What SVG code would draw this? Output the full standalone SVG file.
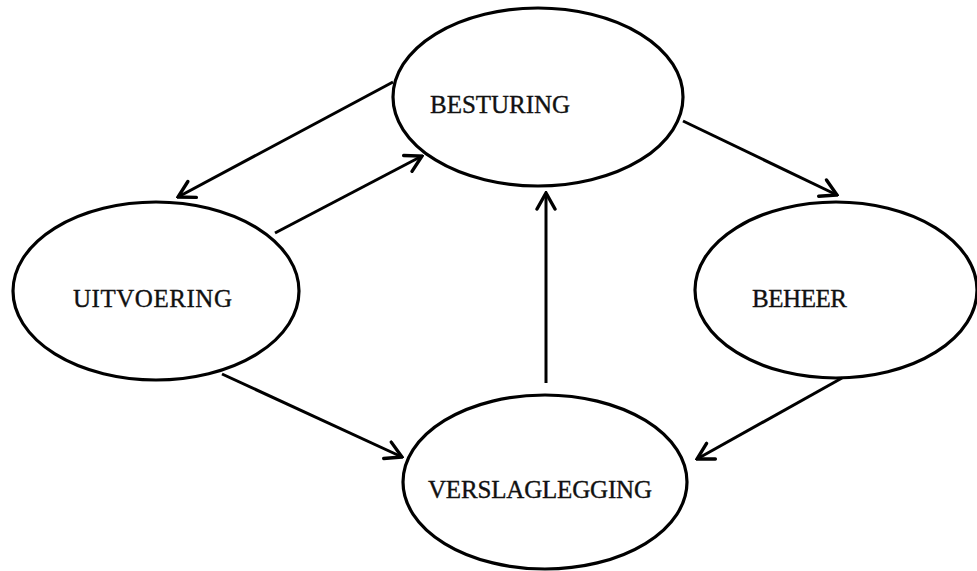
<svg xmlns="http://www.w3.org/2000/svg" width="977" height="571" viewBox="0 0 977 571">
<style>
.n ellipse{fill:none;stroke:#000;stroke-width:3.2}
.n text{font-family:"Liberation Serif","DejaVu Serif",serif;font-size:25px;fill:#111;stroke:#111;stroke-width:0.35}
.c line{stroke:#000;stroke-width:3;fill:none;marker-end:url(#ah)}
</style>
<defs>
<marker id="ah" viewBox="0 0 22 22" refX="20" refY="11" markerWidth="22" markerHeight="22" markerUnits="userSpaceOnUse" orient="auto">
<path d="M4,2 L20,11 L4,20" fill="none" stroke="#000" stroke-width="3.4" stroke-linecap="round" stroke-linejoin="miter"/>
</marker>
</defs>
<rect width="977" height="571" fill="#fff"/>
<g id="besturing" class="n"><ellipse cx="538" cy="97" rx="145" ry="89"/><text x="430" y="113" textLength="140" lengthAdjust="spacing">BESTURING</text></g>
<g id="uitvoering" class="n"><ellipse cx="156" cy="291" rx="143" ry="89"/><text x="73" y="307" textLength="159" lengthAdjust="spacing">UITVOERING</text></g>
<g id="beheer" class="n"><ellipse cx="836" cy="290" rx="141" ry="88"/><text x="752" y="307" textLength="95" lengthAdjust="spacing">BEHEER</text></g>
<g id="verslaglegging" class="n"><ellipse cx="545" cy="482" rx="142" ry="87"/><text x="428" y="498" textLength="224" lengthAdjust="spacing">VERSLAGLEGGING</text></g>
<g id="connectors" class="c">
<line x1="393" y1="82" x2="178" y2="197"/>
<line x1="275" y1="233" x2="422" y2="156"/>
<line x1="683" y1="121" x2="837" y2="195"/>
<line x1="842" y1="378" x2="697" y2="459"/>
<line x1="222" y1="374" x2="402" y2="457"/>
<line x1="546" y1="383" x2="546" y2="193"/>
</g>
</svg>
